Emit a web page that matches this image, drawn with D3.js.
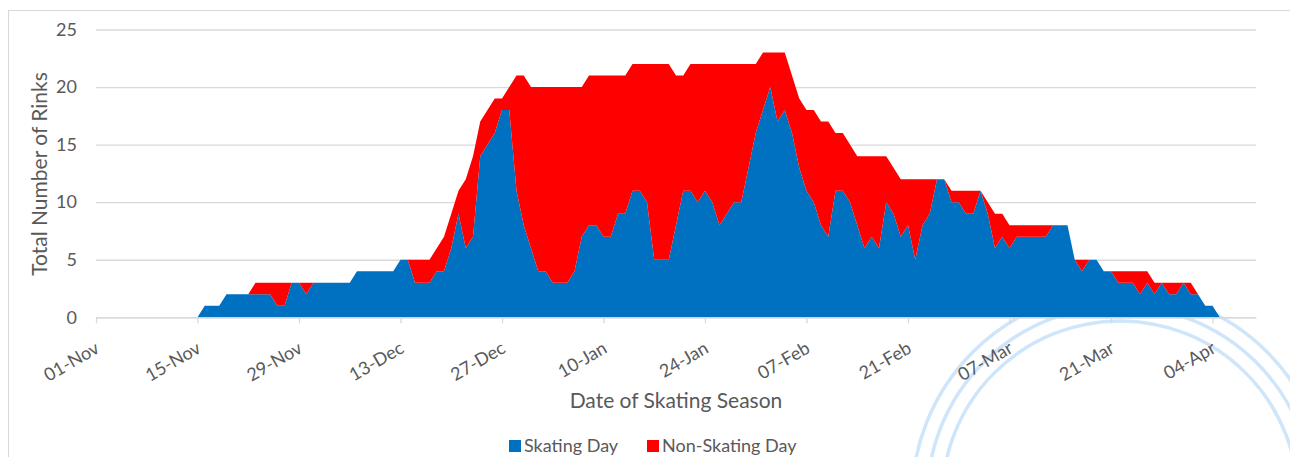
<!DOCTYPE html>
<html>
<head>
<meta charset="utf-8">
<script src="https://cdn.jsdelivr.net/npm/d3@7"></script>
<style>
  body { margin: 0; background: #fff; }
  svg text { font-family: Lato, 'Open Sans', sans-serif; fill: #595959; }
</style>
</head>
<body>
<div id="skating-chart"></div>
<script>
// ---------------------------------------------------------------------------
// data: one value per day, 01-Nov-2017 .. 10-Apr-2018

var seasonStart = '2017-11-01';
var seasonEnd = '2018-04-10';

var skating = [
  0, 0, 0, 0, 0, 0, 0, 0, 0, 0,
  0, 0, 0, 0, 0, 1, 1, 1, 2, 2,
  2, 2, 2, 2, 2, 1, 1, 3, 3, 2,
  3, 3, 3, 3, 3, 3, 4, 4, 4, 4,
  4, 4, 5, 5, 3, 3, 3, 4, 4, 6,
  9, 6, 7, 14, 15, 16, 18, 18, 11, 8,
  6, 4, 4, 3, 3, 3, 4, 7, 8, 8,
  7, 7, 9, 9, 11, 11, 10, 5, 5, 5,
  8, 11, 11, 10, 11, 10, 8, 9, 10, 10,
  13, 16, 18, 20, 17, 18, 16, 13, 11, 10,
  8, 7, 11, 11, 10, 8, 6, 7, 6, 10,
  9, 7, 8, 5, 8, 9, 12, 12, 10, 10,
  9, 9, 11, 9, 6, 7, 6, 7, 7, 7,
  7, 7, 8, 8, 8, 5, 4, 5, 5, 4,
  4, 3, 3, 3, 2, 3, 2, 3, 2, 2,
  3, 2, 2, 1, 1, 0, 0, 0, 0, 0,
  0
];

var nonSkating = [
  0, 0, 0, 0, 0, 0, 0, 0, 0, 0,
  0, 0, 0, 0, 0, 0, 0, 0, 0, 0,
  0, 0, 1, 1, 1, 2, 2, 0, 0, 1,
  0, 0, 0, 0, 0, 0, 0, 0, 0, 0,
  0, 0, 0, 0, 2, 2, 2, 2, 3, 3,
  2, 6, 7, 3, 3, 3, 1, 2, 10, 13,
  14, 16, 16, 17, 17, 17, 16, 13, 13, 13,
  14, 14, 12, 12, 11, 11, 12, 17, 17, 17,
  13, 10, 11, 12, 11, 12, 14, 13, 12, 12,
  9, 6, 5, 3, 6, 5, 5, 6, 7, 8,
  9, 10, 5, 5, 5, 6, 8, 7, 8, 4,
  4, 5, 4, 7, 4, 3, 0, 0, 1, 1,
  2, 2, 0, 1, 3, 2, 2, 1, 1, 1,
  1, 1, 0, 0, 0, 0, 1, 0, 0, 0,
  0, 1, 1, 1, 2, 1, 1, 0, 1, 1,
  0, 1, 0, 0, 0, 0, 0, 0, 0, 0,
  0
];

var seriesKeys = ['skating', 'nonSkating'];
var seriesNames = ['Skating Day', 'Non-Skating Day'];
var seriesColors = ['#0070C0', '#FF0000'];

var xTickDates = [
  '2017-11-01', '2017-11-15', '2017-11-29', '2017-12-13', '2017-12-27', '2018-01-10',
  '2018-01-24', '2018-02-07', '2018-02-21', '2018-03-07', '2018-03-21', '2018-04-04'
];
var yTicks = [0, 5, 10, 15, 20, 25];

var yTitle = 'Total Number of Rinks';
var xTitle = 'Date of Skating Season';

// ---------------------------------------------------------------------------

(function () {
'use strict';

var width = 1290,
  height = 457,
  left = 96,
  right = 1256,
  top = 29.5,
  bottom = 317.3;

var parseDate = d3.timeParse('%Y-%m-%d'),
  formatTick = d3.timeFormat('%d-%b');

var days = d3.timeDay.range(parseDate(seasonStart), d3.timeDay.offset(parseDate(seasonEnd), 1));
var rows = days.map(function(d, i) {
  return { date: d, skating: skating[i], nonSkating: nonSkating[i] };
});
var layers = d3.stack().keys(seriesKeys)(rows);

var x = d3.scaleTime()
  .domain([parseDate(seasonStart), parseDate(seasonEnd)])
  .range([left, right]);
var y = d3.scaleLinear()
  .domain([0, 25])
  .range([bottom, top]);

var svg = d3.select('#skating-chart')
  .append('svg')
  .attr('width', width)
  .attr('height', height);

svg.append('rect')
  .attr('width', width)
  .attr('height', height)
  .attr('fill', '#fff');

// decorative rings behind the chart, lower right
svg.append('g')
  .attr('class', 'rings')
  .selectAll('circle')
  .data([178, 193, 208])
  .enter().append('circle')
  .attr('cx', 1120)
  .attr('cy', 499)
  .attr('r', function(r) { return r; })
  .attr('fill', 'none')
  .attr('stroke', '#cfe5fa')
  .attr('stroke-width', 3.5);

// chart border
svg.append('rect')
  .attr('x', 8.5)
  .attr('y', 10.5)
  .attr('width', 1300)
  .attr('height', 500)
  .attr('fill', 'none')
  .attr('stroke', '#d9d9d9');

// y gridlines + labels
var yAxis = svg.append('g')
  .attr('class', 'y-axis')
  .attr('transform', 'translate(' + left + ',0)')
  .call(d3.axisLeft(y)
    .tickValues(yTicks)
    .tickSize(-(right - left))
    .tickPadding(19));
yAxis.select('.domain').remove();
yAxis.selectAll('line')
  .attr('stroke', '#d9d9d9')
  .attr('stroke-width', 1.3);
yAxis.selectAll('text')
  .attr('font-size', 18);

// stacked areas
var area = d3.area()
  .x(function(d) { return x(d.data.date); })
  .y0(function(d) { return y(d[0]); })
  .y1(function(d) { return y(d[1]); });

svg.append('g')
  .attr('class', 'areas')
  .selectAll('path')
  .data(layers)
  .enter().append('path')
  .attr('fill', function(l, i) { return seriesColors[i]; })
  .attr('d', area);

// x axis
var xAxis = svg.append('g')
  .attr('class', 'x-axis')
  .attr('transform', 'translate(0,' + bottom + ')')
  .call(d3.axisBottom(x)
    .tickValues(xTickDates.map(parseDate))
    .tickFormat(formatTick)
    .tickSizeInner(6)
    .tickSizeOuter(0));
xAxis.select('.domain')
  .attr('stroke', '#d9d9d9')
  .attr('stroke-width', 1.3);
xAxis.selectAll('line')
  .attr('stroke', '#d9d9d9')
  .attr('stroke-width', 1.3);
xAxis.selectAll('text')
  .attr('font-size', 18)
  .attr('text-anchor', 'end')
  .attr('x', 0)
  .attr('y', 0)
  .attr('dy', '0.35em')
  .attr('transform', 'translate(1,29) rotate(-30)');

// titles
svg.append('text')
  .attr('class', 'y-title')
  .attr('transform', 'translate(40,174) rotate(-90)')
  .attr('text-anchor', 'middle')
  .attr('dy', '0.35em')
  .attr('font-size', 21)
  .text(yTitle);

svg.append('text')
  .attr('class', 'x-title')
  .attr('x', 676)
  .attr('y', 401)
  .attr('text-anchor', 'middle')
  .attr('dy', '0.35em')
  .attr('font-size', 21)
  .text(xTitle);

// legend
var legend = svg.append('g')
  .attr('class', 'legend')
  .selectAll('g')
  .data(seriesNames)
  .enter().append('g')
  .attr('transform', function(n, i) {
    return 'translate(' + [509, 647][i] + ',446)';
  });
legend.append('rect')
  .attr('x', 0)
  .attr('y', -6)
  .attr('width', 12)
  .attr('height', 12)
  .attr('fill', function(n, i) { return seriesColors[i]; });
legend.append('text')
  .attr('x', 15)
  .attr('dy', '0.35em')
  .attr('font-size', 18)
  .text(function(n) { return n; });

}());
</script>
</body>
</html>
